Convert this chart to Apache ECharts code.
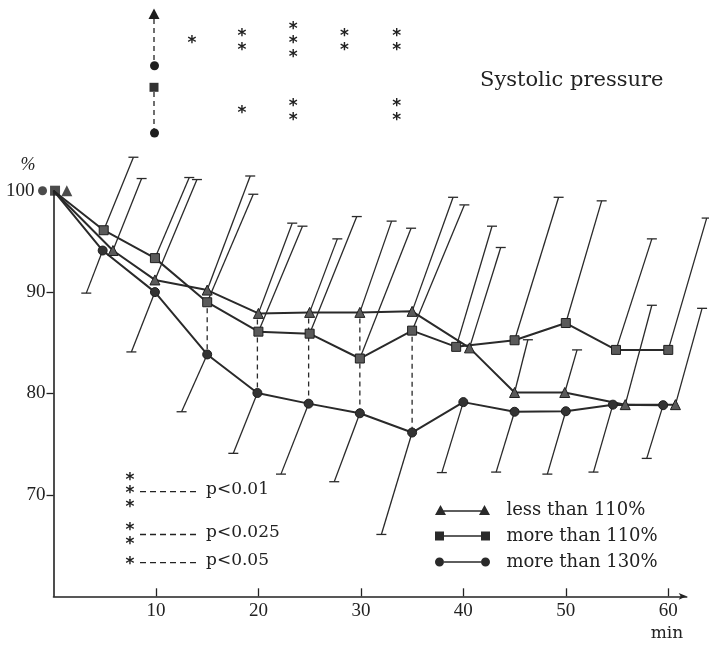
<!DOCTYPE html>
<html>
<head>
<meta charset="utf-8">
<script src="https://cdn.jsdelivr.net/npm/echarts@6/dist/echarts.min.js"></script>
<style>
  html, body { margin: 0; padding: 0; background: #fff; }
  #main { width: 709px; height: 647px; }
</style>
</head>
<body>
<div id="main"></div>
<script>
// readings: time (min) and systolic pressure (% of start)
var triMin = [0, 5.8, 9.9, 15, 20, 25, 29.9, 35, 40.6, 45, 49.9, 55.8, 60.7];
var triVal = [100, 94.1, 91.2, 90.2, 87.9, 88.0, 88.0, 88.1, 84.5, 80.1, 80.1, 78.9, 78.9];
var triTipMin = [null, 8.6, 14.0, 19.2, 23.3, 27.7, 33.0, 39.0, 43.65, 46.3, 51.1, 58.4, 63.3];
var triTipVal = [null, 101.2, 101.1, 101.45, 96.8, 95.25, 97.0, 99.35, 94.4, 85.3, 84.3, 88.7, 88.4];

var sqMin = [0, 4.9, 9.9, 15, 20, 25, 29.9, 35, 39.3, 45, 50, 54.9, 60];
var sqVal = [100, 96.1, 93.35, 89.0, 86.1, 85.9, 83.45, 86.2, 84.6, 85.25, 86.95, 84.3, 84.3];
var sqTipMin = [null, 7.8, 13.25, 19.5, 24.3, 29.6, 34.9, 40.1, 42.8, 49.3, 53.5, 58.4, 63.75];
var sqTipVal = [null, 103.3, 101.3, 99.65, 96.5, 97.45, 96.3, 98.6, 96.5, 99.35, 99.0, 95.25, 97.3];

var ciMin = [0, 4.8, 9.9, 15, 19.9, 24.9, 29.9, 35, 40, 45, 50, 54.6, 59.5];
var ciVal = [100, 94.1, 90.0, 83.85, 80.05, 79.0, 78.05, 76.15, 79.15, 78.2, 78.25, 78.9, 78.85];
var ciTipMin = [null, 3.2, 7.6, 12.5, 17.55, 22.2, 27.4, 32.0, 37.9, 43.2, 48.2, 52.7, 57.9];
var ciTipVal = [null, 89.9, 84.1, 78.2, 74.1, 72.05, 71.3, 66.1, 72.2, 72.25, 72.05, 72.25, 73.6];

// start markers drawn beside the 100 label
var startMin = [-1.07, 0.15, 1.3];

// significance: point index, which group is compared with the 130% group, star counts
var sigIdx = [3, 4, 5, 6, 7];
var sigUpper = ['sq', 'tri', 'tri', 'tri', 'sq'];
var starsTri = [1, 2, 3, 2, 2];
var starsSq = [0, 1, 2, 0, 2];

var xTicks = [10, 20, 30, 40, 50, 60];
var yTicks = [70, 80, 90];
var yLabels = [70, 80, 90, 100];

var names = ['less than 110%', 'more than 110%', 'more than 130%'];

var INK = '#222';
var NUM_FONT = 'Liberation Serif';
var TXT_FONT = 'DejaVu Serif';
var STAR_FONT = 'bold 17px "DejaVu Sans"';
var STAR_DY = 2.3; // asterisk sits high in its em box

function pts(xs, ys) {
  return xs.map(function (x, i) {
    return i === 0 ? { value: [x, ys[i]], symbol: 'none' } : [x, ys[i]];
  });
}
function bars(xs, ys, tx, ty) {
  var out = [];
  for (var i = 1; i < xs.length; i++) out.push([xs[i], ys[i], tx[i], ty[i]]);
  return out;
}
function star(x, y) {
  return {
    type: 'text', x: x, y: y + STAR_DY,
    style: { text: '*', font: STAR_FONT, fill: INK, align: 'center', verticalAlign: 'middle' }
  };
}

function renderBar(params, api) {
  var p = api.coord([api.value(0), api.value(1)]);
  var q = api.coord([api.value(2), api.value(3)]);
  var st = { stroke: '#2a2a2a', lineWidth: 1.3 };
  return {
    type: 'group',
    children: [
      { type: 'line', shape: { x1: p[0], y1: p[1], x2: q[0], y2: q[1] }, style: st },
      { type: 'line', shape: { x1: q[0] - 5, y1: q[1], x2: q[0] + 5, y2: q[1] }, style: st }
    ]
  };
}

var groups = { tri: [triMin, triVal], sq: [sqMin, sqVal] };
var sigData = sigIdx.map(function (k, i) {
  var g = groups[sigUpper[i]];
  return [ciMin[k], g[1][k], ciVal[k]];
});

var starData = [];
sigIdx.forEach(function (k, i) {
  starData.push([ciMin[k], 0, starsTri[i]]);
  starData.push([ciMin[k], 1, starsSq[i]]);
});

var myChart = echarts.init(document.getElementById('main'));

var lineBase = {
  type: 'line',
  lineStyle: { color: '#2a2a2a', width: 2 },
  itemStyle: { color: '#5a5a5a', borderColor: '#1e1e1e', borderWidth: 1 },
  z: 3
};

var iconTri = 'path://M0,11L5.5,1L11,11ZM44,11L49.5,1L55,11ZM8,6.2L47,6.2L47,7.8L8,7.8Z';
var iconSq = 'path://M0,1.5L9,1.5L9,10.5L0,10.5ZM46,1.5L55,1.5L55,10.5L46,10.5ZM9,5.2L46,5.2L46,6.8L9,6.8Z';
var iconCi = 'path://M0,6A4.5,4.5,0,1,1,9,6A4.5,4.5,0,1,1,0,6ZM46,6A4.5,4.5,0,1,1,55,6A4.5,4.5,0,1,1,46,6ZM9,5.2L46,5.2L46,6.8L9,6.8Z';

var option = {
  backgroundColor: '#fff',
  animation: false,
  grid: { left: 53.5, top: 190.7, right: 22.3, bottom: 50.7 },
  xAxis: {
    type: 'value',
    min: 0,
    max: 61.8,
    axisLine: {
      lineStyle: { color: INK, width: 1.6 },
      symbol: ['none', 'arrow'],
      symbolSize: [5, 8]
    },
    axisTick: { inside: true, length: 8, lineStyle: { color: INK, width: 1.3 }, customValues: xTicks },
    axisLabel: { customValues: xTicks, margin: 5, fontFamily: NUM_FONT, fontSize: 19, color: INK },
    splitLine: { show: false }
  },
  yAxis: {
    type: 'value',
    min: 60,
    max: 100,
    axisLine: { lineStyle: { color: INK, width: 1.6 } },
    axisTick: { length: 7, lineStyle: { color: INK, width: 1.3 }, customValues: yTicks },
    axisLabel: {
      customValues: yLabels,
      margin: 8,
      fontFamily: NUM_FONT,
      fontSize: 19,
      color: INK,
      formatter: function (v) { return v === 100 ? '{a|100}' : String(v); },
      rich: { a: { fontFamily: NUM_FONT, fontSize: 19, color: INK, padding: [0, 11, 0, 0] } }
    },
    splitLine: { show: false }
  },
  legend: {
    orient: 'vertical',
    left: 435,
    top: 501,
    padding: 0,
    itemWidth: 55,
    itemHeight: 11,
    itemGap: 8,
    selectedMode: false,
    itemStyle: { color: '#2a2a2a', borderWidth: 0 },
    formatter: function (n) { return '  ' + n; },
    textStyle: { fontFamily: TXT_FONT, fontSize: 18, color: INK, lineHeight: 18 },
    data: [
      { name: names[0], icon: iconTri },
      { name: names[1], icon: iconSq },
      { name: names[2], icon: iconCi }
    ]
  },
  series: [
    Object.assign({}, lineBase, { name: names[0], symbol: 'triangle', symbolSize: 10, data: pts(triMin, triVal) }),
    Object.assign({}, lineBase, { name: names[1], symbol: 'rect', symbolSize: 9, data: pts(sqMin, sqVal) }),
    Object.assign({}, lineBase, {
      name: names[2], symbol: 'circle', symbolSize: 9,
      itemStyle: { color: '#333', borderColor: '#1e1e1e', borderWidth: 1 },
      data: pts(ciMin, ciVal)
    }),
    {
      type: 'scatter',
      clip: false,
      z: 4,
      itemStyle: { color: '#1e1e1e' },
      data: [
        { value: [startMin[0], 100], symbol: 'circle', symbolSize: 9 },
        { value: [startMin[1], 100], symbol: 'rect', symbolSize: 10 },
        { value: [startMin[2], 100], symbol: 'triangle', symbolSize: 11 }
      ]
    },
    { type: 'custom', clip: false, z: 1, renderItem: renderBar, data: bars(triMin, triVal, triTipMin, triTipVal) },
    { type: 'custom', clip: false, z: 1, renderItem: renderBar, data: bars(sqMin, sqVal, sqTipMin, sqTipVal) },
    { type: 'custom', clip: false, z: 1, renderItem: renderBar, data: bars(ciMin, ciVal, ciTipMin, ciTipVal) },
    {
      // dashed connectors where the difference is significant
      type: 'custom', clip: false, z: 1,
      renderItem: function (params, api) {
        var a = api.coord([api.value(0), api.value(1)]);
        var b = api.coord([api.value(0), api.value(2)]);
        return {
          type: 'line',
          shape: { x1: a[0], y1: a[1] + 6, x2: b[0], y2: b[1] - 4 },
          style: { stroke: '#2a2a2a', lineWidth: 1.3, lineDash: [5, 4] }
        };
      },
      data: sigData
    },
    {
      // significance stars above the plot
      type: 'custom', clip: false, z: 1,
      renderItem: function (params, api) {
        var n = api.value(2);
        var row = api.value(1);
        var base = api.coord([api.value(0) - 1.5, 100]);
        var cy = row === 0 ? 41.7 : 111;
        var kids = [];
        for (var j = 0; j < n; j++) kids.push(star(base[0], cy + (j - (n - 1) / 2) * 14));
        return { type: 'group', children: kids };
      },
      data: starData
    }
  ],
  graphic: [
    { type: 'text', left: 480, top: 70, style: { text: 'Systolic pressure', font: '21px "DejaVu Serif"', fill: INK } },
    { type: 'text', x: 28, y: 165, style: { text: '%', font: 'italic 18px "Liberation Serif"', fill: INK, align: 'center', verticalAlign: 'middle' } },
    { type: 'text', x: 667, y: 634, style: { text: 'min', font: '17px "DejaVu Serif"', fill: INK, align: 'center', verticalAlign: 'middle' } },
    // group key at the top left
    { type: 'polygon', shape: { points: [[148.5, 19], [154, 8.5], [159.5, 19]] }, style: { fill: '#1e1e1e' } },
    { type: 'line', shape: { x1: 154, y1: 19, x2: 154, y2: 62 }, style: { stroke: INK, lineWidth: 1.3, lineDash: [5, 4] } },
    { type: 'circle', shape: { cx: 154.5, cy: 65.7, r: 4.5 }, style: { fill: '#1e1e1e' } },
    { type: 'rect', shape: { x: 149.5, y: 82.8, width: 9, height: 9 }, style: { fill: '#333' } },
    { type: 'line', shape: { x1: 154, y1: 92, x2: 154, y2: 129 }, style: { stroke: INK, lineWidth: 1.3, lineDash: [5, 4] } },
    { type: 'circle', shape: { cx: 154.5, cy: 133, r: 4.5 }, style: { fill: '#1e1e1e' } },
    // p-value key
    star(130, 478.3), star(130, 491.7), star(130, 505.5),
    { type: 'line', shape: { x1: 140, y1: 491.7, x2: 198, y2: 491.7 }, style: { stroke: INK, lineWidth: 1.3, lineDash: [6, 4] } },
    { type: 'text', x: 206, y: 490, style: { text: 'p<0.01', font: '17px "DejaVu Serif"', fill: INK, verticalAlign: 'middle' } },
    star(130, 528.3), star(130, 542.7),
    { type: 'line', shape: { x1: 140, y1: 534.5, x2: 198, y2: 534.5 }, style: { stroke: INK, lineWidth: 1.3, lineDash: [6, 4] } },
    { type: 'text', x: 206, y: 533, style: { text: 'p<0.025', font: '17px "DejaVu Serif"', fill: INK, verticalAlign: 'middle' } },
    star(130, 562.7),
    { type: 'line', shape: { x1: 140, y1: 562.7, x2: 198, y2: 562.7 }, style: { stroke: INK, lineWidth: 1.3, lineDash: [6, 4] } },
    { type: 'text', x: 206, y: 561, style: { text: 'p<0.05', font: '17px "DejaVu Serif"', fill: INK, verticalAlign: 'middle' } }
  ]
};

myChart.setOption(option);

window.addEventListener('resize', function () {
  myChart.resize();
});
</script>
</body>
</html>
